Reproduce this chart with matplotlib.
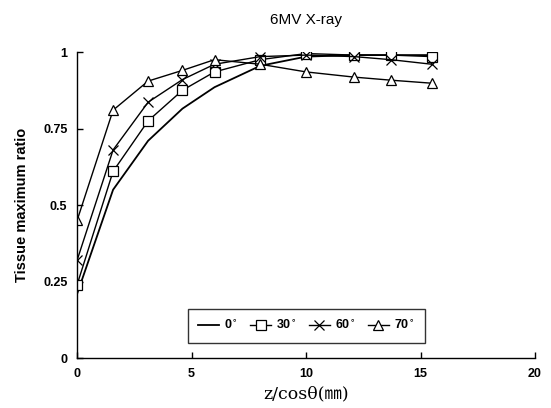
import matplotlib
matplotlib.use("Agg")
import matplotlib.pyplot as plt

# depth scaled by obliquity, z/cos(theta) in mm
depth = [0, 1.57, 3.1, 4.6, 6.0, 8.0, 10.0, 12.1, 13.7, 15.5]

tmr_0 = [0.21, 0.55, 0.71, 0.815, 0.885, 0.955, 0.985, 0.99, 0.99, 0.99]
tmr_30 = [0.24, 0.61, 0.775, 0.875, 0.935, 0.975, 0.995, 0.99, 0.99, 0.985]
tmr_60 = [0.32, 0.68, 0.836, 0.91, 0.96, 0.985, 0.99, 0.985, 0.975, 0.96]
tmr_70 = [0.45, 0.81, 0.905, 0.94, 0.975, 0.96, 0.935, 0.918, 0.908, 0.898]

angles = ["0", "30", "60", "70"]

fig = plt.figure(figsize=(5.51, 4.08), dpi=100)
ax = fig.add_axes([0.14, 0.1225, 0.831, 0.75])

ax.plot(depth, tmr_0, color="black", lw=1.3, label=angles[0] + r"$^{\circ}$")
ax.plot(depth, tmr_30, color="black", lw=1.0, marker="s", ms=6.5, mfc="white",
        mec="black", mew=0.9, label=angles[1] + r"$^{\circ}$")
ax.plot(depth, tmr_60, color="black", lw=1.0, marker="x", ms=6.5, mew=0.9,
        label=angles[2] + r"$^{\circ}$")
ax.plot(depth, tmr_70, color="black", lw=1.0, marker="^", ms=7.5, mfc="white",
        mec="black", mew=0.9, label=angles[3] + r"$^{\circ}$")

ax.set_xlim(0, 20)
ax.set_ylim(0, 1)
ax.set_xticks([0, 5, 10, 15, 20])
ax.set_yticks([0, 0.25, 0.5, 0.75, 1])
ax.set_yticklabels(["0", "0.25", "0.5", "0.75", "1"])

for side in ["top", "right"]:
    ax.spines[side].set_visible(False)
for side in ["left", "bottom"]:
    ax.spines[side].set_linewidth(1.0)

ax.tick_params(direction="in", length=4, width=1.0, labelsize=9, pad=7)
for lab in ax.get_xticklabels() + ax.get_yticklabels():
    lab.set_fontweight("bold")
    lab.set_family("Liberation Sans")

ax.set_title("6MV X-ray", fontsize=11, family="Liberation Sans", pad=20)
ax.set_ylabel("Tissue maximum ratio", fontsize=10.5, fontweight="bold",
              family="Liberation Sans", labelpad=10)
ax.set_xlabel("z/cos\u03b8(\u339c)", fontsize=12.5,
              family=["DejaVu Serif", "Noto Sans CJK JP"], labelpad=4)

leg = ax.legend(loc="center", bbox_to_anchor=(0.5, 0.105), ncol=4,
                frameon=True, fancybox=False, edgecolor="black",
                handlelength=1.7, columnspacing=1.0, handletextpad=0.4,
                prop={"family": "Liberation Sans", "weight": "bold", "size": 9},
                borderpad=0.85)
leg.get_frame().set_linewidth(1.0)

fig.savefig("out.png", dpi=100)
